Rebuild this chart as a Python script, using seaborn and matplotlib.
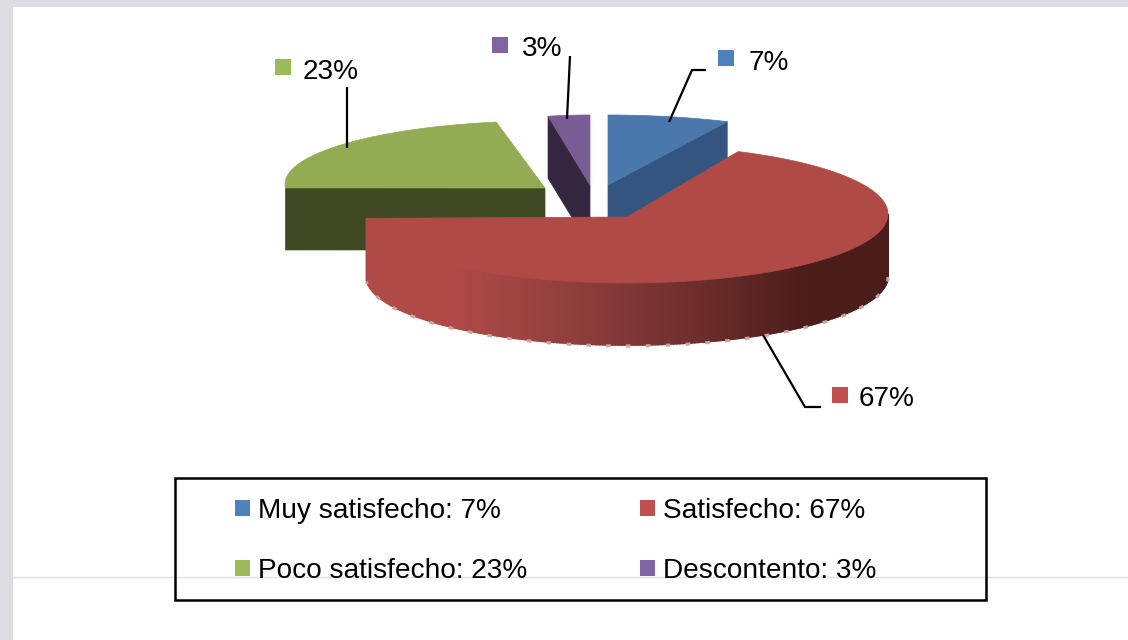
import numpy as np
import matplotlib
matplotlib.use("Agg")
import matplotlib.pyplot as plt
from matplotlib.patches import Patch, Rectangle
import seaborn as sns

# data
categories = ["Muy satisfecho", "Satisfecho", "Poco satisfecho", "Descontento"]
values = [7, 67, 23, 3]

# look of each slice, in picture pixels
colors = ["#4a78ad", "#b04a47", "#93ab52", "#7a5c94"]
dark_colors = ["#33557f", "#4a1c1a", "#3f4a24", "#35263f"]
legend_colors = ["#4f81bd", "#c0504d", "#9bbb59", "#8064a2"]
apex_x = [608, 627, 545, 590]
apex_y = [185, 217, 188, 185]
rim_y = [185, 214, 184, 185]
radius_x = [280, 261, 260, 224]
radius_y = [70, 69, 63, 70]
depth = 62

# label positions: key square, text, leader line
key_xy = [(726, 58), (840, 395), (283, 67), (500, 45)]
text_xy = [(749, 63), (859, 399), (303, 72), (522, 49)]
leaders = [
    [(669, 122), (692, 70), (706, 70)],
    [(763, 335), (805, 407), (821, 407)],
    [(347, 148), (347, 87)],
    [(567, 119), (570, 56)],
]

sns.set_theme(style="white")
plt.rcParams["font.family"] = ["Liberation Sans", "DejaVu Sans"]
font_size = 20.16

fig = plt.figure(figsize=(11.28, 6.4), dpi=100)
ax = fig.add_axes([0, 0, 1, 1])
ax.set_xlim(0, 1128)
ax.set_ylim(640, 0)
ax.axis("off")

# page bits behind the chart
ax.add_patch(Rectangle((0, 0), 13, 640, color="#dcdde1", lw=0))
ax.add_patch(Rectangle((0, 0), 1128, 7, color="#dcdde1", lw=0))
ax.plot([13, 1128], [577, 577], color="#e0e0e0", lw=1, zorder=1)

edges = np.cumsum([0] + values) * 3.6


def rim(i, a, b, dy=0, n=200):
    # points on the ellipse, angles clockwise from 12 o'clock
    t = np.radians(np.linspace(a, b, n))
    return apex_x[i] + radius_x[i] * np.sin(t), rim_y[i] - radius_y[i] * np.cos(t) + dy


def draw_cut(i, angle):
    # flat cut face going from the rim to the apex, pushed down by depth
    x, y = rim(i, angle, angle, n=1)
    xs = [x[0], apex_x[i], apex_x[i], x[0]]
    ys = [y[0], apex_y[i], apex_y[i] + depth, y[0] + depth]
    ax.fill(xs, ys, color=dark_colors[i], lw=0.5, zorder=3)


def draw_top(i):
    x, y = rim(i, edges[i], edges[i + 1])
    ax.fill(np.r_[apex_x[i], x], np.r_[apex_y[i], y], color=colors[i], lw=0.5, zorder=4)


# back slices first, red one goes on top of them
draw_cut(2, edges[2])
draw_top(2)
draw_cut(3, edges[3])
draw_top(3)
draw_cut(0, edges[1])
draw_top(0)

# red outer wall with the shading running left to right
shades = sns.blend_palette([colors[1], "#8f3f3c", "#6e2f2d", dark_colors[1]], 256)
wall = np.linspace(90, edges[2], 260)
for a, b in zip(wall[:-1], wall[1:]):
    x, y = rim(1, a, b, n=2)
    mid = x.mean()
    shade = shades[int(np.clip((mid - 450) / (810 - 450), 0, 1) * 255)]
    ax.fill(np.r_[x, x[::-1]], np.r_[y, y[::-1] + depth], color=shade, lw=1.2, zorder=5)

x, y = rim(1, 90, edges[2])
ax.plot(x, y + depth + 1, color="#c9a3a3", lw=2.2, ls=(0, (1.5, 5)), zorder=5)

x, y = rim(1, edges[1], edges[2])
ax.fill(np.r_[apex_x[1], x], np.r_[apex_y[1], y], color=colors[1], lw=0.5, zorder=6)

# data labels with their leader lines
for i, v in enumerate(values):
    ax.plot(*zip(*leaders[i]), color="black", lw=1.6, zorder=7, solid_capstyle="butt")
    ax.scatter(*key_xy[i], marker="s", s=120, color=legend_colors[i], lw=0, zorder=7)
    ax.text(*text_xy[i], f"{v}%", fontsize=font_size, color="black", va="center", ha="left", zorder=7)

# legend in its black box
ax.add_patch(Rectangle((175, 478), 811, 122, fill=False, ec="black", lw=1.8, zorder=8))
handles = [Patch(facecolor=c, edgecolor="none") for c in legend_colors]
labels = [f"{c}: {v}%" for c, v in zip(categories, values)]
# matplotlib fills columns first, so reorder to read across the rows
order = [0, 2, 1, 3]
ax.legend(
    [handles[i] for i in order], [labels[i] for i in order],
    ncol=2, frameon=False, fontsize=font_size, labelcolor="black",
    loc="upper left", bbox_to_anchor=(235, 498), bbox_transform=ax.transData,
    borderaxespad=0, borderpad=0,
    handlelength=0.52, handleheight=0.52, handletextpad=0.3,
    columnspacing=4.04, labelspacing=1.22,
)

fig.savefig("out.png", dpi=100)
